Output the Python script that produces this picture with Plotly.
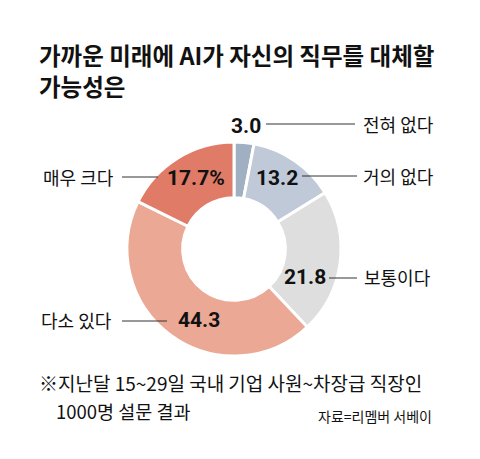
import plotly.graph_objects as go

# 응답 항목 (12시 방향부터 시계 방향)
labels = ['전혀 없다', '거의 없다', '보통이다', '다소 있다', '매우 크다']
values = [3.0, 13.2, 21.8, 44.3, 17.7]
value_text = ['3.0', '13.2', '21.8', '44.3', '17.7%']
colors = ['#a0b0c2', '#bfc9d8', '#dddedd', '#eaa895', '#df7b66']

W, H = 480, 459
num_font = 'Roboto, Noto Sans, sans-serif'
kr_font = 'Noto Sans CJK KR, sans-serif'

fig = go.Figure(go.Pie(
    labels=labels, values=values,
    sort=False, direction='clockwise', rotation=0,
    hole=0.48,
    marker=dict(colors=colors, line=dict(color='white', width=3)),
    textinfo='none', hoverinfo='label+value',
    domain=dict(x=[127 / W, 341 / W], y=[1 - 356 / H, 1 - 142 / H]),
))

# 값 라벨 위치, 카테고리 라벨 위치, 지시선 (픽셀 기준)
val_pos = [(246, 126), (277, 178), (305, 277), (199, 320), (196, 178)]
cat_pos = [(361, 124, 'left'), (361, 176, 'left'), (362, 277, 'left'),
           (114, 320, 'right'), (116, 177, 'right')]
leaders = [(266, 355, 124), (302, 357, 176), (329, 357, 278),
           (122, 167, 321), (122, 158, 177)]


def px(x, y):
    return x / W, 1 - y / H


def note(x, y, text, size, family=kr_font, anchor='left'):
    ax, ay = px(x, y)
    fig.add_annotation(x=ax, y=ay, xref='paper', yref='paper', text=text,
                       xanchor=anchor, yanchor='middle', showarrow=False,
                       font=dict(family=family, size=size, color='#111'))


for (x, y), t in zip(val_pos, value_text):
    note(x, y, '<b>%s</b>' % t, 21, num_font, 'center')

for (x, y, side), lab in zip(cat_pos, labels):
    note(x, y, lab, 18, anchor=side)

for x0, x1, y in leaders:
    fig.add_shape(type='line', xref='paper', yref='paper',
                  x0=x0 / W, x1=x1 / W, y0=1 - y / H, y1=1 - y / H,
                  line=dict(color='#333', width=1))

# 제목
note(37, 55, '<b>가까운 미래에 AI가 자신의 직무를 대체할</b>', 23.5)
note(37, 86, '<b>가능성은</b>', 23.5)

# 주석 / 출처
note(37, 382, '※지난달 15~29일 국내 기업 사원~차장급 직장인', 19)
note(54, 411, '1000명 설문 결과', 18.5)
note(434, 416, '자료=리멤버 서베이', 14, anchor='right')

fig.update_layout(width=W, height=H, margin=dict(l=0, r=0, t=0, b=0),
                  showlegend=False, paper_bgcolor='white', plot_bgcolor='white')
# 페이지 기본 여백 제거
fig.write_html('out.html', config={'displayModeBar': False},
               post_script="document.body.style.margin='0';")
